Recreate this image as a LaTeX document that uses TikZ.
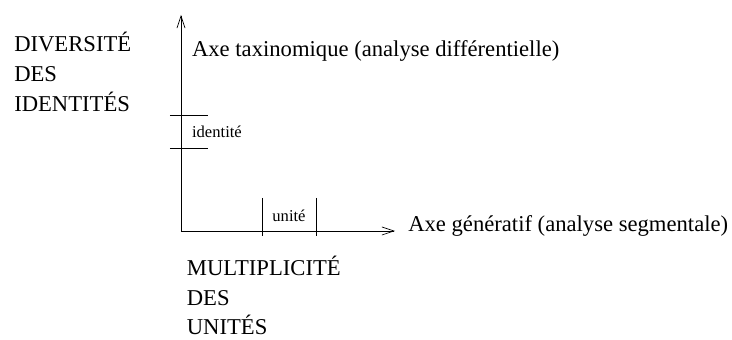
\documentclass[tikz,border=0pt]{standalone}
\usepackage{fontspec}
\setmainfont{Liberation Serif}
\usepackage{tikz}
\usetikzlibrary{positioning, arrows.meta}

\begin{document}
\begin{tikzpicture}[
    axis/.style={-{Straight Barb[length=3mm, width=2mm]}, line width=0.5pt},
    tick/.style={line width=0.5pt},
    biglabel/.style={font=\fontsize{16.1}{21.3}\selectfont, inner sep=0pt, align=left},
    smalllabel/.style={font=\fontsize{11.8}{14}\selectfont, inner sep=0pt}
]

    % Frame
    \useasboundingbox (-4.525, -2.725) rectangle (13.775, 5.775);

    % Axes
    \coordinate (origin) at (0, 0);
    \coordinate (ytip) at (0, 5.4);
    \coordinate (xtip) at (5.35, 0);
    \draw[axis] (origin) -- (ytip);
    \draw[axis] (origin) -- (xtip);

    % Ticks on the vertical axis
    \coordinate (ta1) at (-0.275, 2.88);
    \coordinate (ta2) at (0.67, 2.88);
    \coordinate (tb1) at (-0.275, 2.07);
    \coordinate (tb2) at (0.67, 2.07);
    \draw[tick] (ta1) -- (ta2);
    \draw[tick] (tb1) -- (tb2);
    \node[smalllabel, anchor=west] (identite) at (0.27, 2.475) {identité};

    % Ticks on the horizontal axis
    \coordinate (ua1) at (2.025, 0.83);
    \coordinate (ua2) at (2.025, -0.12);
    \coordinate (ub1) at (3.375, 0.83);
    \coordinate (ub2) at (3.375, -0.12);
    \draw[tick] (ua1) -- (ua2);
    \draw[tick] (ub1) -- (ub2);
    \node[smalllabel, anchor=base] (unite) at (2.7, 0.23) {unité};

    % Axis labels
    \node[biglabel, anchor=base west] (taxo) at (0.27, 4.36)
        {Axe taxinomique (analyse différentielle)};
    \node[biglabel, anchor=base west] (gener) at (5.675, -0.02)
        {Axe génératif (analyse segmentale)};

    % Side labels (base = last line)
    \node[biglabel, anchor=base west] (diversite) at (-4.175, 2.98)
        {DIVERSITÉ\\DES\\IDENTITÉS};
    \node[biglabel, anchor=base west] (multiplicite) at (0.14, -2.6)
        {MULTIPLICITÉ\\DES\\UNITÉS};

\end{tikzpicture}
\end{document}
